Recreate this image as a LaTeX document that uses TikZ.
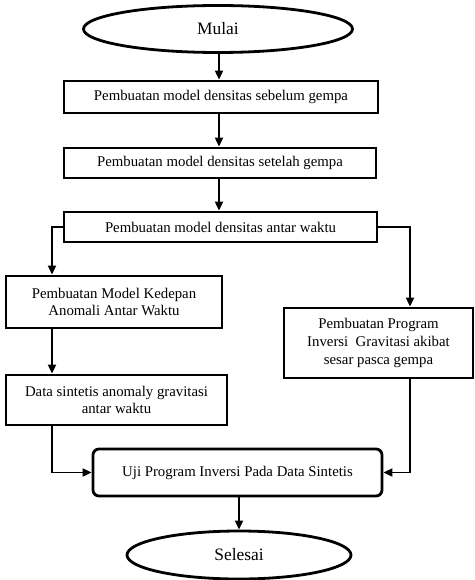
\documentclass[tikz,border=0pt]{standalone}
\usepackage{fontspec}
\setmainfont{Liberation Serif}
\usetikzlibrary{shapes.geometric,arrows.meta}
\begin{document}
\begin{tikzpicture}[x=1pt,y=-1pt,
  procbox/.style={draw,line width=2.8pt,inner sep=0pt,font=\fontsize{14.8}{17.6}\selectfont,align=center},
  term/.style={draw,ellipse,line width=2.8pt,inner sep=0pt,font=\fontsize{17.4}{20}\selectfont},
  conn/.style={line width=1.9pt},
  arr/.style={conn,-{Triangle[length=9pt,width=8pt]}}]
\useasboundingbox (0,0) rectangle (474,580);
\node[term,minimum width=269pt,minimum height=47pt] (mulai) at (218,29) {Mulai};
\node[procbox,minimum width=314pt,minimum height=32pt] (b1) at (221,97) {Pembuatan model densitas sebelum gempa};
\node[procbox,minimum width=312pt,minimum height=30pt] (b2) at (220,163) {Pembuatan model densitas setelah gempa};
\node[procbox,minimum width=313pt,minimum height=30pt] (b3) at (220.5,227) {Pembuatan model densitas antar waktu};
\node[procbox,minimum width=216pt,minimum height=52pt] (b4) at (114,302) {Pembuatan Model Kedepan\\Anomali Antar Waktu};
\node[procbox,minimum width=189pt,minimum height=70pt] (b5) at (378.5,343) {Pembuatan Program\\Inversi\ \ Gravitasi akibat\\sesar pasca gempa};
\node[procbox,minimum width=221pt,minimum height=50pt] (b6) at (116.5,400) {Data sintetis anomaly gravitasi\\antar waktu};
\node[procbox,rounded corners=6pt,minimum width=289pt,minimum height=47pt] (b7) at (237.5,472.5) {Uji Program Inversi Pada Data Sintetis};
\node[term,minimum width=224pt,minimum height=48pt] (sel) at (239,555) {Selesai};
\coordinate (lx) at (52,0);
\coordinate (rx) at (410,0);
\coordinate (cx) at (219,0);
\draw[arr] (mulai.south -| cx) -- (b1.north -| cx);
\draw[arr] (b1.south -| cx) -- (b2.north -| cx);
\draw[arr] (b2.south -| cx) -- (b3.north -| cx);
\draw[arr] (b3.west) -| (lx |- b4.north);
\draw[arr] (b3.east) -| (rx |- b5.north);
\draw[arr] (lx |- b4.south) -- (lx |- b6.north);
\draw[arr] (lx |- b6.south) |- (b7.west);
\draw[arr] (rx |- b5.south) |- (b7.east);
\draw[arr] (sel.north |- b7.south) -- (sel.north);
\end{tikzpicture}
\end{document}
